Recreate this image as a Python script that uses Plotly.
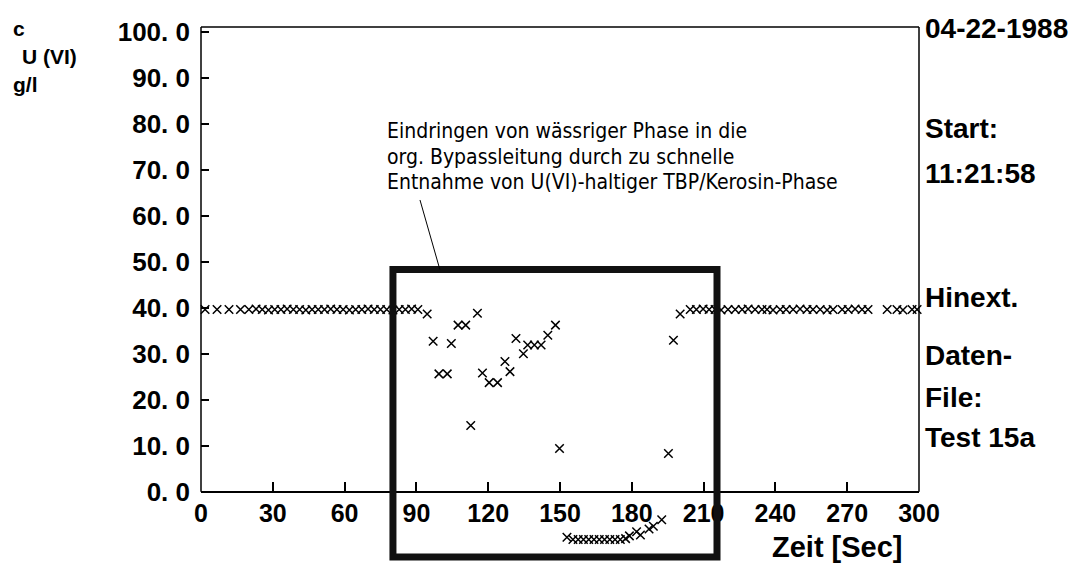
import plotly.graph_objects as go

# Zeit in Sekunden, Konzentration U(VI) in g/l
zeit_vor = [1.7, 6.7, 11.7, 16.5, 20.0, 23.0, 25.6, 28.2, 30.8, 33.4, 36.0, 38.6,
            41.2, 43.8, 46.4, 49.0, 51.6, 54.2, 56.8, 59.4, 62.0, 64.6, 67.2,
            69.8, 72.4, 75.0, 77.6, 80.2, 82.8, 85.4, 88.0, 90.6]
konz_vor = [39.6, 39.6, 39.6, 39.6, 39.6, 39.7, 39.6, 39.5, 39.6, 39.6, 39.7, 39.6,
            39.6, 39.5, 39.6, 39.6, 39.6, 39.7, 39.6, 39.6, 39.5, 39.6, 39.6,
            39.7, 39.6, 39.6, 39.6, 39.5, 39.6, 39.6, 39.7, 39.6]

zeit_stoer = [94.5, 97.0, 99.4, 102.9, 104.6, 107.4, 110.6, 112.7, 115.5, 117.6,
              120.4, 123.9, 127.0, 129.1, 131.6, 134.7, 136.5, 139.3, 142.1,
              144.9, 148.1, 149.8, 152.9, 155.4, 157.6, 159.8, 162.0, 164.2,
              166.4, 168.6, 170.8, 173.0, 175.2, 177.4, 179.0, 182.0, 183.6,
              187.2, 189.0, 192.5, 195.3, 197.4, 200.2]
konz_stoer = [38.6, 32.7, 25.6, 25.6, 32.2, 36.2, 36.2, 14.4, 38.8, 25.8,
              23.7, 23.7, 28.3, 26.1, 33.3, 30.0, 31.9, 31.9, 31.9,
              34.0, 36.2, 9.4, -9.9, -10.4, -10.4, -10.4, -10.4, -10.4,
              -10.4, -10.4, -10.4, -10.4, -10.4, -10.2, -9.6, -8.7, -9.4,
              -8.1, -7.5, -6.1, 8.3, 32.9, 38.6]

zeit_nach = [204.4, 207.0, 209.8, 212.3, 214.8, 217.3, 220.2, 223.2, 226.1,
             228.6, 231.5, 234.4, 236.5, 239.0, 242.0, 244.5, 247.4, 250.3,
             253.2, 255.7, 258.7, 261.6, 264.1, 267.9, 270.4, 273.3, 276.2,
             278.7, 286.7, 290.8, 293.3, 297.1, 299.2]
konz_nach = [39.6, 39.6, 39.7, 39.6, 39.6, 39.5, 39.6, 39.6, 39.6,
             39.7, 39.6, 39.6, 39.6, 39.5, 39.6, 39.6, 39.6, 39.7,
             39.6, 39.6, 39.6, 39.5, 39.6, 39.6, 39.6, 39.7, 39.6,
             39.6, 39.6, 39.6, 39.5, 39.6, 39.6]

x_ticks = [0, 30, 60, 90, 120, 150, 180, 210, 240, 270, 300]
y_ticks = [0, 10, 20, 30, 40, 50, 60, 70, 80, 90, 100]
y_labels = ["0. 0", "10. 0", "20. 0", "30. 0", "40. 0", "50. 0",
            "60. 0", "70. 0", "80. 0", "90. 0", "100. 0"]

# markierter Bereich (Stoerung) und Hinweislinie
box_x = [80.2, 215.6]
box_y = [-14.2, 48.3]
pfeil_x = [91.5, 99.8]
pfeil_y = [63.4, 48.3]

# Werte unter 0 liegen unterhalb der Zeitachse -> Bereich nach unten erweitern
Y_MIN, Y_MAX = -15.5, 101
NUM_FONT = "Liberation Sans, Arial, sans-serif"
TXT_FONT = "DejaVu Sans Condensed, Liberation Sans, sans-serif"
LEFT = 193

def dom(v):
    return (v - Y_MIN) / (Y_MAX - Y_MIN)

fig = go.Figure()
fig.add_trace(go.Scatter(
    x=zeit_vor + zeit_stoer + zeit_nach,
    y=konz_vor + konz_stoer + konz_nach,
    mode="markers", cliponaxis=False,
    marker=dict(symbol="x-thin", size=8.5, color="black",
                line=dict(width=1.5, color="black")),
    showlegend=False))

# Rahmen: links, oben, rechts (unten ist die Zeitachse)
rahmen = dict(color="black", width=1.5)
fig.add_shape(type="line", xref="x domain", yref="y domain", x0=0, x1=0,
              y0=dom(0), y1=1, line=rahmen)
fig.add_shape(type="line", xref="x domain", yref="y domain", x0=0, x1=1,
              y0=1, y1=1, line=rahmen)
fig.add_shape(type="line", xref="x domain", yref="y domain", x0=1, x1=1,
              y0=dom(0), y1=1, line=rahmen)

fig.add_shape(type="rect", xref="x", yref="y domain",
              x0=box_x[0], x1=box_x[1], y0=dom(box_y[0]), y1=dom(box_y[1]),
              line=dict(color="#111", width=7))
fig.add_shape(type="line", xref="x", yref="y",
              x0=pfeil_x[0], y0=pfeil_y[0], x1=pfeil_x[1], y1=pfeil_y[1],
              line=dict(color="black", width=1))

hinweis = [("Eindringen von wässriger Phase in die", 78.4),
           ("org. Bypassleitung durch zu schnelle", 72.8),
           ("Entnahme von U(VI)-haltiger TBP/Kerosin-Phase", 67.4)]
for zeile, yv in hinweis:
    fig.add_annotation(x=76.9, y=yv, xref="x", yref="y",
                       text=zeile, showarrow=False, xanchor="left", yanchor="middle",
                       font=dict(family=TXT_FONT, size=21, color="black"))

rechts = [("04-22-1988", 100.6), ("Start:", 79.0), ("11:21:58", 69.1),
          ("Hinext.", 42.3), ("Daten-", 29.5), ("File:", 20.4), ("Test 15a", 11.7)]
for txt, yv in rechts:
    fig.add_annotation(x=1, y=yv, xref="paper", yref="y", text=txt, showarrow=False,
                       xanchor="left", yanchor="middle", xshift=4,
                       font=dict(family=NUM_FONT, size=28, color="black", weight="bold"))

links = [("c", 100.6, 3), ("U (VI)", 94.6, 12), ("g/l", 88.6, 3)]
for txt, yv, px in links:
    fig.add_annotation(x=0, y=yv, xref="paper", yref="y", text=txt, showarrow=False,
                       xanchor="left", yanchor="middle", xshift=px - LEFT,
                       font=dict(family=NUM_FONT, size=21, color="black", weight="bold"))

fig.add_annotation(x=266, y=0, xref="x", yref="y", text="Zeit [Sec]",
                   showarrow=False, xanchor="center", yanchor="middle", yshift=-55,
                   font=dict(family=NUM_FONT, size=29, color="black", weight="bold"))

fig.update_xaxes(range=[0, 300], tickvals=x_ticks, ticks="inside", ticklen=9,
                 tickwidth=1.5, tickcolor="black", showline=True, linewidth=1.5,
                 linecolor="black", anchor="free", position=dom(0),
                 showgrid=False, zeroline=False, ticklabeloverflow="allow",
                 tickfont=dict(family=NUM_FONT, size=25, color="black", weight="bold"))
fig.update_yaxes(range=[Y_MIN, Y_MAX], tickvals=y_ticks, ticktext=y_labels,
                 ticks="inside", ticklen=8, tickwidth=1.5, tickcolor="black",
                 showline=False, showgrid=False, zeroline=False, ticklabelstandoff=10,
                 ticklabeloverflow="allow",
                 tickfont=dict(family=NUM_FONT, size=26, color="black", weight="bold"))

fig.update_layout(width=1083, height=564, plot_bgcolor="white", paper_bgcolor="white",
                  margin=dict(l=LEFT, r=172, t=9, b=9))

fig.write_html("out.html")
